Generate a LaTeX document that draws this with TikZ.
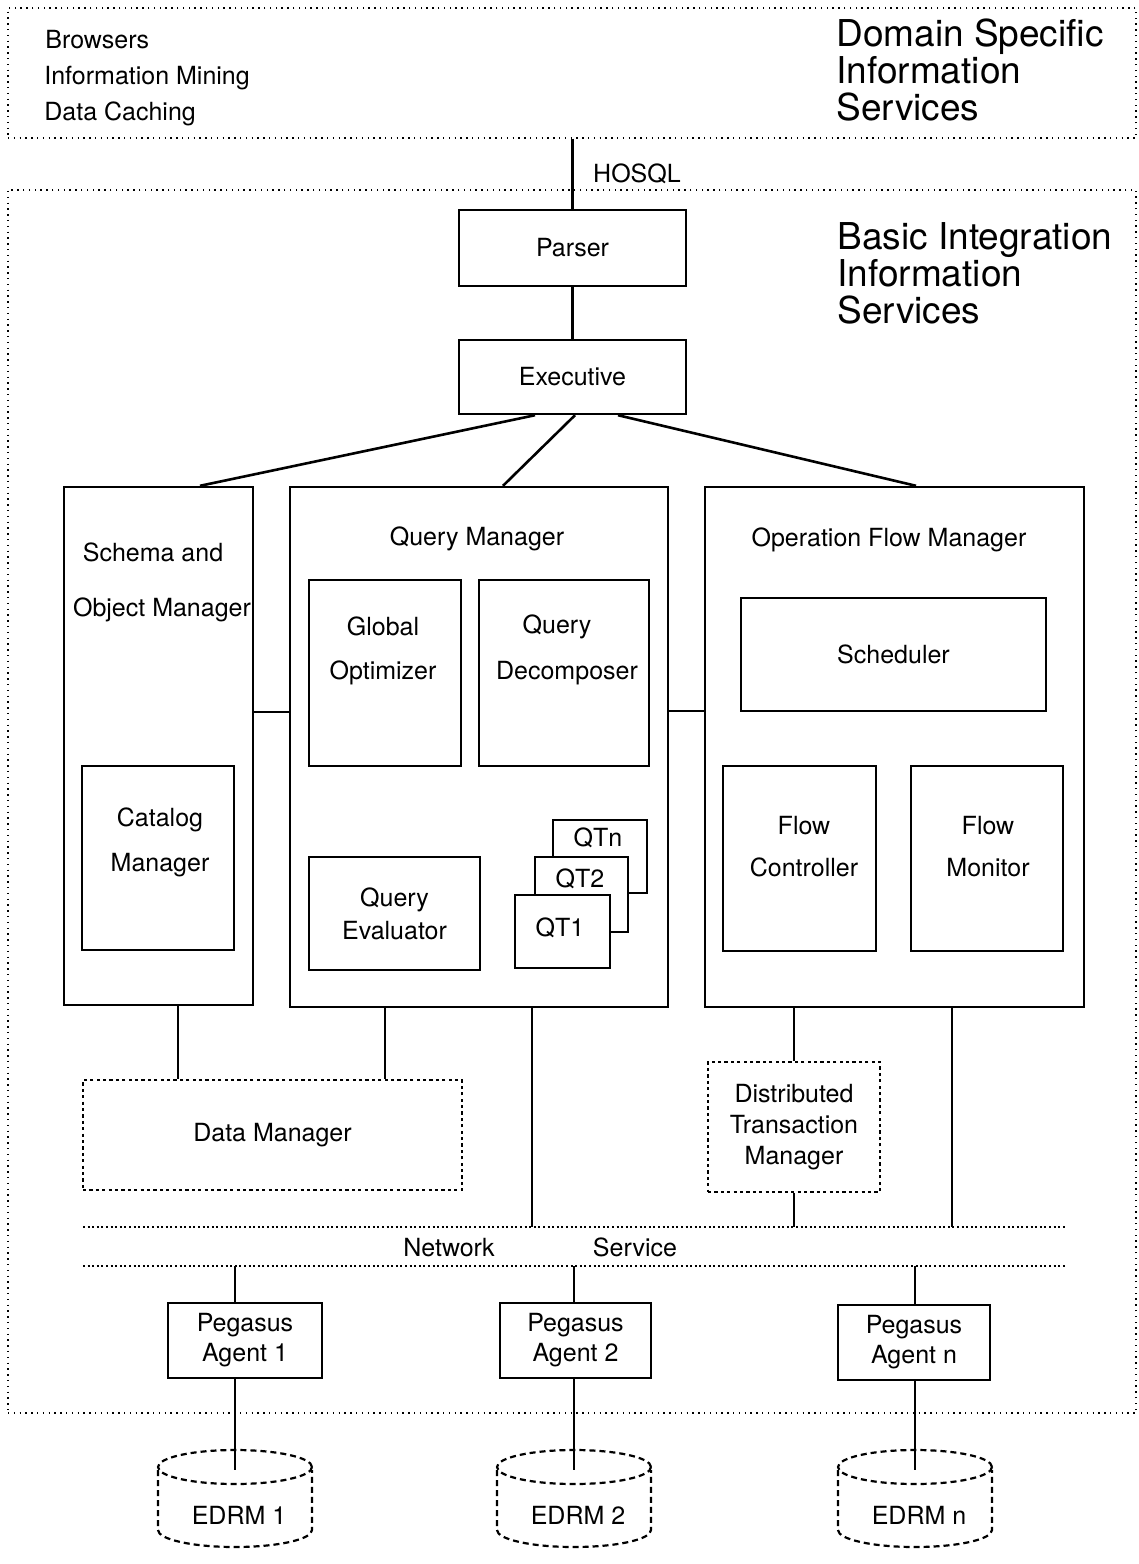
\documentclass[tikz,border=0pt]{standalone}
\usepackage{fontspec}
\setmainfont{TeX Gyre Heros}
\usepackage{tikz}
\usetikzlibrary{positioning}

\begin{document}
\begin{tikzpicture}[x=0.5pt, y=-0.5pt, font=\fontsize{12.5pt}{15pt}\selectfont,
	box/.style={draw, line width=1.2pt, inner sep=0pt, align=center},
	qtbox/.style={box, fill=white},
	area/.style={draw, line width=0.7pt, dash pattern=on 0.7pt off 2.2pt, inner sep=0pt},
	dotbox/.style={box, line width=0.9pt, dash pattern=on 1.6pt off 1.6pt},
	wire/.style={line width=1.3pt},
	netline/.style={line width=1.1pt, dash pattern=on 1pt off 1.3pt},
	dbline/.style={line width=1.1pt, dash pattern=on 3pt off 2pt},
	bigtitle/.style={font=\fontsize{18.5pt}{18.5pt}\selectfont, align=left, anchor=west, inner sep=0pt},
	txt/.style={inner sep=0pt, align=center, text depth=0pt}]
		\useasboundingbox (0,0) rectangle (1139,1564);
		% two service layers
		\node [area, minimum width=564pt, minimum height=65pt] (dsis) at (572,73) {};
		\node [area, minimum width=564pt, minimum height=611.5pt] (bis) at (572,801.5) {};
		\node [txt, anchor=west] (browsers) at (45,39) {Browsers};
		\node [txt, anchor=west] (mining) at (44,75) {Information Mining};
		\node [txt, anchor=west] (caching) at (44,111) {Data Caching};
		\node [bigtitle] (dsistitle) at (836,70) {Domain Specific\\Information\\Services};
		\node [bigtitle] (bistitle) at (837,273) {Basic Integration\\Information\\Services};
		% parser and executive
		\node [box, minimum width=113.5pt, minimum height=38pt] (parser) at (572.5,248) {Parser};
		\node [box, minimum width=113.5pt, minimum height=37pt] (exec) at (572.5,377) {Executive};
		\node [txt] (hosql) at (637,173) {HOSQL};
		\path [draw, wire] (parser.north |- dsis.south) -- (parser.north);
		\path [draw, wire] (parser.south) -- (exec.north);
		% managers
		\node [box, minimum width=94.5pt, minimum height=259pt] (schema) at (158.5,746) {};
		\node [box, minimum width=189pt, minimum height=260pt] (qm) at (479,747) {};
		\node [box, minimum width=189.5pt, minimum height=260pt] (ofm) at (894.5,747) {};
		\node [txt] (schematxt) at (153,552) {Schema and};
		\node [txt] (objecttxt) at (162,607) {Object Manager};
		\node [txt] (qmtxt) at (477,536) {Query Manager};
		\node [txt] (ofmtxt) at (889,537) {Operation Flow Manager};
		\path [draw, wire] ([xshift=-18.75pt]exec.south) -- ([xshift=20.75pt]schema.north);
		\path [draw, wire] ([xshift=1.25pt]exec.south) -- ([xshift=12pt]qm.north);
		\path [draw, wire] ([xshift=22.75pt]exec.south) -- ([xshift=10.75pt]ofm.north);
		\path [draw, wire] ([yshift=17pt]schema.east) -- ([yshift=17pt]schema.east -| qm.west);
		\path [draw, wire] ([yshift=18pt]qm.east) -- ([yshift=18pt]qm.east -| ofm.west);
		% schema and object manager
		\node [box, minimum width=76pt, minimum height=92pt] (catalog) at (158,858) {};
		\node [txt] (catalogtxt) at (160,840) {Catalog\\[7.5pt]Manager};
		% query manager
		\node [box, minimum width=76pt, minimum height=93pt] (optimizer) at (385,673) {};
		\node [txt] (optimizertxt) at (383,648) {Global\\[7pt]Optimizer};
		\node [box, minimum width=85pt, minimum height=93pt] (decomposer) at (564,673) {};
		\node [txt] (querytxt) at (557,624) {Query};
		\node [txt] (decomposertxt) at (567,670) {Decomposer};
		\node [box, minimum width=85.5pt, minimum height=56.5pt] (evaluator) at (394.5,913.5) {Query\\[1.5pt]Evaluator};
		\node [qtbox, minimum width=47pt, minimum height=36.5pt] (qtn) at (600,856.5) {};
		\node [txt] (qtntxt) at (598,837) {QTn};
		\node [qtbox, minimum width=46.5pt, minimum height=37.5pt] (qttwo) at (581.5,894.5) {};
		\node [txt] (qttwotxt) at (580,878) {QT2};
		\node [qtbox, minimum width=47.5pt, minimum height=36.5pt] (qtone) at (562.5,931.5) {};
		\node [txt] (qtonetxt) at (560,927) {QT1};
		% operation flow manager
		\node [box, minimum width=152.5pt, minimum height=56.5pt] (scheduler) at (893.5,654.5) {Scheduler};
		\node [box, minimum width=76.5pt, minimum height=92.5pt] (controller) at (799.5,858.5) {};
		\node [txt] (controllertxt) at (804,846) {Flow\\[6pt]Controller};
		\node [box, minimum width=76pt, minimum height=92.5pt] (monitor) at (987,858.5) {};
		\node [txt] (monitortxt) at (988,846) {Flow\\[6pt]Monitor};
		% data and transaction managers
		\node [dotbox, minimum width=189.5pt, minimum height=55pt] (dm) at (272.5,1135) {Data Manager};
		\node [dotbox, minimum width=86pt, minimum height=65pt] (dtm) at (794,1127) {Distributed\\[0.7pt]Transaction\\[0.7pt]Manager};
		\path [draw, wire] ([xshift=9.75pt]schema.south) -- ([xshift=9.75pt]schema.south |- dm.north);
		\path [draw, wire] ([xshift=-47pt]qm.south) -- ([xshift=-47pt]qm.south |- dm.north);
		\path [draw, wire] (dtm.north |- ofm.south) -- (dtm.north);
		% network service
		\coordinate (netAw) at (83,1227);
		\coordinate (netAe) at (1066,1227);
		\coordinate (netBw) at (83,1266);
		\coordinate (netBe) at (1066,1266);
		\path [draw, netline] (netAw) -- (netAe);
		\path [draw, netline] (netBw) -- (netBe);
		\node [txt] (network) at (449,1247) {Network};
		\node [txt] (service) at (635,1247) {Service};
		\path [draw, wire] ([xshift=26.5pt]qm.south) -- ([xshift=26.5pt]qm.south |- netAw);
		\path [draw, wire] (dtm.south) -- (dtm.south |- netAw);
		\path [draw, wire] ([xshift=28.75pt]ofm.south) -- ([xshift=28.75pt]ofm.south |- netAw);
		% agents and data sources
		\node [box, minimum width=77pt, minimum height=37.5pt] (agent1) at (245,1340.5) {Pegasus\\Agent 1};
		\node [box, minimum width=75.5pt, minimum height=37.5pt] (agent2) at (575.5,1340.5) {Pegasus\\Agent 2};
		\node [box, minimum width=76pt, minimum height=37.5pt] (agentn) at (914,1342.5) {Pegasus\\Agent n};
		\foreach \cx/\nm/\lab in {235/db1/EDRM 1, 574/db2/EDRM 2, 915/dbn/EDRM n} {
			\path [draw, dbline] (\cx-77,1470) -- (\cx-77,1530)
				arc [start angle=180, end angle=360, x radius=38.5pt, y radius=8.5pt] -- (\cx+77,1470);
			\path [draw, dbline] (\cx,1467) ellipse [x radius=38.5pt, y radius=8.5pt];
			\coordinate (\nm) at (\cx,1470);
			\node [txt] (\nm txt) at (\cx+4,1515) {\lab};
		}
		\path [draw, wire] (db1 |- netBw) -- (db1 |- agent1.north);
		\path [draw, wire] (db1 |- agent1.south) -- (db1);
		\path [draw, wire] (db2 |- netBw) -- (db2 |- agent2.north);
		\path [draw, wire] (db2 |- agent2.south) -- (db2);
		\path [draw, wire] (dbn |- netBw) -- (dbn |- agentn.north);
		\path [draw, wire] (dbn |- agentn.south) -- (dbn);
	\end{tikzpicture}
\end{document}
